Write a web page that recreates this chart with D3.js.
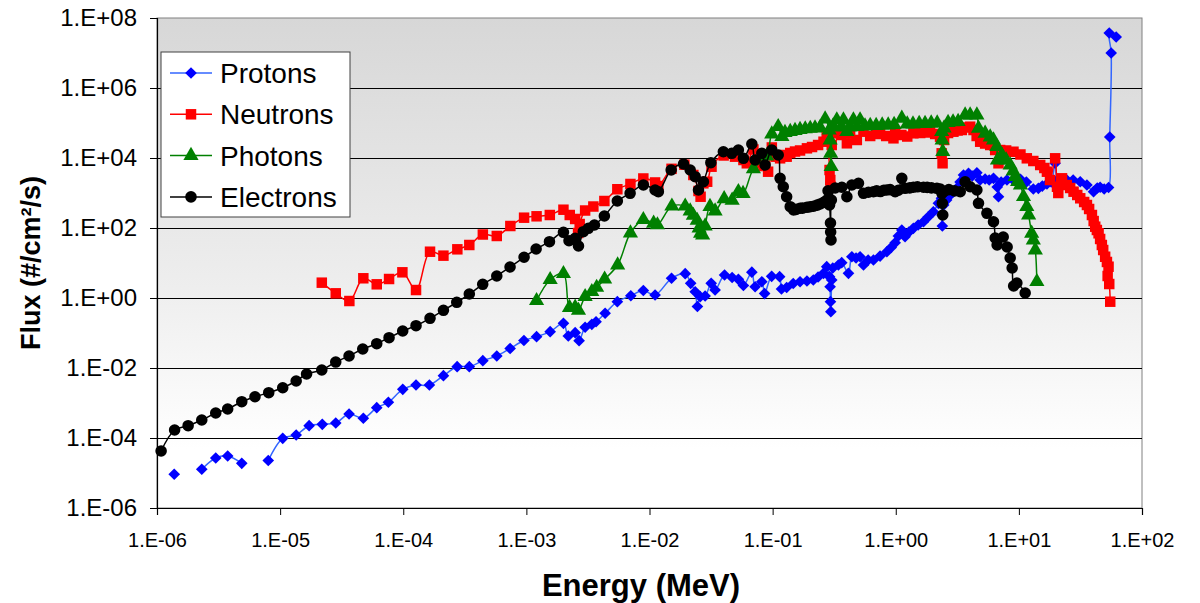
<!DOCTYPE html>
<html>
<head>
<meta charset="utf-8">
<script src="https://cdn.jsdelivr.net/npm/d3@7"></script>
<style>
  body { margin: 0; background: #fff; }
  svg { font-family: "Liberation Sans", Arial, sans-serif; }
</style>
</head>
<body>
<svg id="chart" width="1200" height="603"></svg>
<script>
const width = 1200;
const height = 603;

const seriesNames = ["Protons", "Neutrons", "Photons", "Electrons"];
const yTicks = [1e-6, 1e-4, 1e-2, 1e0, 1e2, 1e4, 1e6, 1e8];
const xTicks = [1e-6, 1e-5, 1e-4, 1e-3, 1e-2, 1e-1, 1e0, 1e1, 1e2];

// [energy MeV, flux #/cm2/s], null = gap in the line
const protons = [
  [1.38e-6, 9.2e-6], null,
  [2.31e-6, 1.28e-5], [3.0e-6, 2.68e-5], [3.75e-6, 3.06e-5], [4.88e-6, 1.89e-5], null,
  [8.01e-6, 2.28e-5], [1.05e-5, 9.8e-5], [1.35e-5, 1.22e-4], [1.72e-5, 2.25e-4], [2.2e-5, 2.46e-4],
  [2.83e-5, 2.68e-4], [3.63e-5, 4.85e-4], [4.74e-5, 3.66e-4], [6.09e-5, 7.34e-4], [7.57e-5, 1.05e-3],
  [9.91e-5, 2.46e-3], [1.27e-4, 3.27e-3], [1.63e-4, 3.27e-3], [2.12e-4, 6.03e-3], [2.74e-4, 1.09e-2],
  [3.44e-4, 1.09e-2], [4.43e-4, 1.62e-2], [5.75e-4, 2.2e-2], [7.38e-4, 3.61e-2], [9.55e-4, 6.1e-2],
  [1.21e-3, 7.84e-2], [1.56e-3, 0.109], [2.0e-3, 0.189], [2.19e-3, 0.082], [2.49e-3, 0.102],
  [2.68e-3, 0.0603], [3.0e-3, 0.146], [3.4e-3, 0.177], [3.68e-3, 0.21], [4.36e-3, 0.366],
  [5.48e-3, 0.784], [7.05e-3, 1.16], [8.91e-3, 1.64], [1.11e-2, 1.22], [1.51e-2, 3.66],
  [1.95e-2, 4.95], [2.16e-2, 2.63], [2.35e-2, 1.51], [2.45e-2, 0.572], [2.58e-2, 1.09],
  [2.83e-2, 1.14], [3.17e-2, 2.63], [3.41e-2, 1.69], [4.07e-2, 4.54], [4.69e-2, 3.85],
  [5.27e-2, 3.42], [5.79e-2, 2.28], [6.78e-2, 5.46], [7.21e-2, 2.1], [8.17e-2, 2.92],
  [8.61e-2, 1.34], [9.82e-2, 4.17], [0.114, 4.06], [0.118, 1.81], [0.130, 2.0],
  [0.147, 2.6], [0.167, 2.92], [0.19, 3.06], [0.214, 3.27], [0.234, 3.98], [0.259, 5.08],
  [0.275, 7.84], [0.29, 4.06], [0.293, 2.1], [0.295, 0.784], [0.297, 0.406], [0.302, 3.27],
  [0.308, 7.2], [0.342, 8.77], [0.364, 10.2], [0.413, 5.08], [0.44, 15.1], [0.476, 13.9],
  [0.513, 15.1], [0.547, 8.77], [0.597, 12.2], [0.659, 12.2], [0.746, 15.8], [0.847, 21.0],
  [0.918, 27.7], [0.989, 38.0], [1.05, 59], [1.12, 87.7], [1.19, 56.4], [1.28, 76.9],
  [1.39, 98], [1.52, 122], [1.68, 151], [1.83, 206], [2.02, 292], [2.22, 508], [2.35, 706],
  [2.37, 235], [2.39, 114], [2.45, 454], [2.59, 631], [2.77, 877], [2.92, 1070], [3.13, 1360],
  [3.33, 2060], [3.55, 3270], [3.9, 3660], [4.18, 3060], [4.56, 3800], [4.85, 2350],
  [5.32, 2510], [5.74, 2350], [6.22, 2630], [6.67, 1480], [6.83, 783], [7.18, 2060],
  [8.0, 2350], [9.0, 2350], [10.3, 2460], [11.5, 2060], [13.1, 1300], [14.4, 1360],
  [15.5, 1580], [16.9, 1810], [18.3, 2060], [19.7, 7060], [20.5, 2350], [22.1, 2060],
  [24.5, 2350], [27.6, 2350], [31.5, 2100], [35.7, 1690], [40.4, 1090], [43.3, 1390],
  [45.7, 1460], [49.3, 1300], [53.5, 1440], [54.7, 39800], [56.2, 1.0e7], [54.2, 3.73e7],
  [61.7, 2.86e7]
];

const neutrons = [
  [2.18e-5, 2.74], [2.83e-5, 1.36], [3.65e-5, 0.82], [4.74e-5, 3.66], [6.09e-5, 2.46],
  [7.67e-5, 3.49], [9.84e-5, 5.42], [1.27e-4, 1.69], [1.65e-4, 21.0], [2.12e-4, 16.2],
  [2.75e-4, 24.6], [3.44e-4, 32.7], [4.43e-4, 65.2], [5.75e-4, 59.1], [7.41e-4, 114],
  [9.58e-4, 197], [1.21e-3, 216], [1.55e-3, 235], [2.0e-3, 333], [2.25e-3, 235],
  [2.49e-3, 181], [2.63e-3, 71.9], [2.71e-3, 130], [3.0e-3, 316], [3.5e-3, 411],
  [4.3e-3, 591], [5.48e-3, 1280], [7.0e-3, 1810], [8.91e-3, 2600], [1.11e-2, 2000],
  [1.18e-2, 1580], [1.51e-2, 4910], [1.92e-2, 6440], [2.27e-2, 3270], [2.5e-2, 1140],
  [2.6e-2, 783], [2.74e-2, 1890], [2.94e-2, 2100], [3.19e-2, 5640], [4.0e-2, 11800],
  [4.95e-2, 10900], [5.79e-2, 8770], [6.17e-2, 7060], [6.98e-2, 17500], [7.67e-2, 7060],
  [8.45e-2, 5900], [9.19e-2, 4060], [9.85e-2, 20000], [0.107, 10900], [0.115, 9800],
  [0.122, 12200], [0.13, 10900], [0.139, 13900], [0.152, 15300], [0.167, 16400],
  [0.19, 18900], [0.209, 20600], [0.234, 23500], [0.259, 29200], [0.275, 50800],
  [0.29, 4540], [0.294, 2350], [0.296, 1510], [0.302, 23500], [0.322, 50800],
  [0.36, 45400], [0.401, 26300], [0.426, 50800], [0.483, 32700], [0.547, 56400],
  [0.62, 42500], [0.693, 48500], [0.746, 50800], [0.836, 42500], [0.958, 36500],
  [0.989, 56400], [1.11, 45400], [1.24, 41100], [1.39, 50800], [1.58, 51800],
  [1.77, 53500], [1.90, 56400], [2.09, 48500], [2.29, 40600], [2.36, 13600],
  [2.4, 7060], [2.47, 32700], [2.66, 51800], [2.94, 56400], [3.18, 61100],
  [3.44, 63100], [3.73, 74300], [4.02, 78400], [4.28, 63100], [4.54, 42500],
  [4.85, 29200], [5.32, 25900], [5.85, 23500], [6.42, 16900], [6.83, 7060],
  [7.05, 16900], [7.88, 16400], [9.04, 15100], [10.3, 12600], [11.6, 9800],
  [13.1, 8200], [14.9, 6310], [16.1, 5180], [16.9, 4060], [17.9, 2350],
  [19.7, 9800], [20.4, 1510], [20.9, 1000], [22.4, 2630], [24.5, 1690],
  [26.1, 1390], [27.8, 1090], [29.8, 877], [31.5, 706], [33.9, 553], [35.7, 454],
  [37.2, 349], [39.2, 235], [40.5, 158], [41.7, 109], [43.0, 87.7], [44.4, 70.6],
  [45.7, 48.5], [47.2, 32.7], [48.4, 23.5], [50.2, 15.1], [51.9, 10.7], [53.5, 7.84],
  [52.6, 4.25], [54.2, 2.51], [55.2, 0.784]
];

const photons = [
  [1.21e-3, 0.838], [1.56e-3, 3.33], [2.0e-3, 4.95], [2.24e-3, 0.535], [2.49e-3, 0.542],
  [2.65e-3, 0.44], [3.0e-3, 1.09], [3.4e-3, 1.51], [3.72e-3, 2.0], [4.32e-3, 3.44],
  [5.51e-3, 8.77], [7.0e-3, 71.9], [8.91e-3, 173], [1.08e-2, 136], [1.16e-2, 122],
  [1.52e-2, 420], [1.95e-2, 420], [2.14e-2, 306], [2.27e-2, 228], [2.44e-2, 164],
  [2.53e-2, 100], [2.6e-2, 70.6], [2.7e-2, 63.1], [2.83e-2, 114], [3.1e-2, 411],
  [3.41e-2, 306], [4.04e-2, 682], [4.69e-2, 618], [5.27e-2, 1090], [5.75e-2, 968],
  [6.98e-2, 4910], [8.95e-2, 11400], [9.84e-2, 48500], [0.111, 78400], [0.119, 40600],
  [0.126, 53500], [0.139, 57100], [0.152, 61100], [0.167, 65200], [0.184, 67500],
  [0.202, 69700], [0.221, 72000], [0.243, 74300], [0.267, 130000], [0.288, 63100],
  [0.293, 32700], [0.296, 13600], [0.299, 5640], [0.31, 82000], [0.332, 122000],
  [0.36, 76900], [0.376, 122000], [0.401, 56400], [0.426, 76900], [0.453, 122000],
  [0.485, 79400], [0.513, 122000], [0.563, 82000], [0.62, 84800], [0.693, 84800],
  [0.776, 87700], [0.868, 87700], [0.97, 90600], [1.12, 136000], [1.24, 93600],
  [1.38, 93600], [1.55, 96800], [1.73, 96800], [1.94, 100000], [2.17, 100000],
  [2.36, 56400], [2.38, 32700], [2.41, 15100], [2.47, 72000], [2.66, 103000],
  [2.92, 107000], [3.21, 110000], [3.66, 169000], [4.02, 169000], [4.56, 169000],
  [4.7, 70600], [5.32, 50800], [5.85, 39800], [6.22, 32700], [6.62, 21000],
  [6.7, 8770], [7.28, 12200], [7.88, 8770], [8.5, 6310], [8.99, 4250], [9.33, 2920],
  [9.77, 2130], [10.3, 1690], [10.9, 783], [11.6, 406], [12.0, 235], [12.7, 70.6],
  [13.1, 45.4], [13.6, 23.5], [14.0, 2.92]
];

const electrons = [
  [1.08e-6, 4.25e-5], [1.39e-6, 1.69e-4], [1.79e-6, 2.25e-4], [2.31e-6, 3.27e-4],
  [3.0e-6, 5.18e-4], [3.75e-6, 6.74e-4], [4.88e-6, 1.09e-3], [6.25e-6, 1.51e-3],
  [8.08e-6, 1.97e-3], [1.05e-5, 2.73e-3], [1.35e-5, 4.25e-3], [1.64e-5, 6.74e-3],
  [2.18e-5, 8.77e-3], [2.83e-5, 1.48e-2], [3.63e-5, 2.2e-2], [4.69e-5, 3.49e-2],
  [6.09e-5, 4.95e-2], [7.67e-5, 7.34e-2], [9.9e-5, 0.114], [1.27e-4, 0.162],
  [1.65e-4, 0.263], [2.12e-4, 0.445], [2.72e-4, 0.754], [3.44e-4, 1.3], [4.42e-4, 2.46],
  [5.75e-4, 4.25], [7.37e-4, 7.69], [9.58e-4, 14.6], [1.2e-3, 25.1], [1.54e-3, 40.6],
  [2.0e-3, 75.4], [2.22e-3, 43.4], [2.49e-3, 50.8], [2.65e-3, 30.6], [2.9e-3, 78.4],
  [3.19e-3, 98], [3.57e-3, 122], [4.3e-3, 220], [5.48e-3, 591], [6.96e-3, 980],
  [8.92e-3, 1690], [1.11e-2, 1220], [1.18e-2, 1090], [1.5e-2, 4540], [1.89e-2, 6740],
  [2.14e-2, 4540], [2.35e-2, 2920], [2.5e-2, 1220], [2.74e-2, 2100], [3.15e-2, 7340],
  [3.98e-2, 15100], [4.66e-2, 13600], [5.27e-2, 16900], [5.79e-2, 9800], [6.78e-2, 25100],
  [7.21e-2, 8770], [8.17e-2, 13600], [8.69e-2, 6310], [9.85e-2, 16900], [0.111, 12200],
  [0.115, 2630], [0.122, 1510], [0.13, 783], [0.139, 406], [0.148, 327], [0.155, 340],
  [0.167, 366], [0.175, 370], [0.19, 390], [0.202, 406], [0.215, 420], [0.23, 450],
  [0.243, 485], [0.26, 540], [0.276, 631], [0.282, 1160], [0.29, 454], [0.295, 139],
  [0.296, 76.9], [0.298, 45.4], [0.30, 631], [0.322, 1390], [0.365, 1460], [0.401, 783],
  [0.44, 1690], [0.498, 1890], [0.547, 980], [0.6, 1050], [0.659, 1090], [0.7, 1150],
  [0.75, 1100], [0.8, 1200], [0.847, 1220], [0.9, 1250], [0.989, 1090], [1.05, 1200],
  [1.12, 2630], [1.19, 1360], [1.3, 1400], [1.39, 1460], [1.5, 1500], [1.68, 1460],
  [1.8, 1450], [1.95, 1400], [2.16, 1360], [2.3, 1300], [2.37, 980], [2.39, 508],
  [2.41, 235], [2.45, 1100], [2.7, 1250], [3.0, 1150], [3.34, 1090], [3.66, 2100],
  [4.02, 1510], [4.56, 1220], [4.7, 508], [5.5, 263], [6.22, 151], [6.42, 51.8],
  [6.66, 32.7], [7.46, 55.3], [8.03, 28.7], [8.5, 13.9], [8.82, 7.2], [9.07, 2.2],
  [9.63, 2.68], [11.25, 1.39]
];

const series = [
  {name: "Protons", data: protons, line: "#3366ff", fill: "#0000ff", shape: "diamond"},
  {name: "Neutrons", data: neutrons, line: "#ff0000", fill: "#ff0000", shape: "square"},
  {name: "Photons", data: photons, line: "#008000", fill: "#008000", shape: "triangle"},
  {name: "Electrons", data: electrons, line: "#000000", fill: "#000000", shape: "circle"}
];

const plot = {left: 157, right: 1142, top: 18, bottom: 508};

const x = d3.scaleLog().domain([1e-6, 1e2]).range([plot.left, plot.right]);
const y = d3.scaleLog().domain([1e-6, 1e8]).range([plot.bottom, plot.top]);

const expFormat = d => {
  const e = Math.round(Math.log10(d));
  return "1.E" + (e < 0 ? "-" : "+") + String(Math.abs(e)).padStart(2, "0");
};

const svg = d3.select("#chart");

//background gradient
const grad = svg.append("defs").append("linearGradient")
    .attr("id", "bg")
    .attr("x1", 0).attr("y1", 0).attr("x2", 0).attr("y2", 1);
grad.append("stop").attr("offset", "0%").attr("stop-color", "#d7d7d7");
grad.append("stop").attr("offset", "55%").attr("stop-color", "#eeeeee");
grad.append("stop").attr("offset", "88%").attr("stop-color", "#ffffff");

svg.append("rect")
    .attr("x", plot.left).attr("y", plot.top)
    .attr("width", plot.right - plot.left).attr("height", plot.bottom - plot.top)
    .attr("fill", "url(#bg)")
    .attr("stroke", "#808080");

//gridlines
svg.append("g")
    .selectAll("line")
    .data(yTicks.slice(1, -1))
    .join("line")
        .attr("x1", plot.left).attr("x2", plot.right)
        .attr("y1", d => Math.round(y(d)) + 0.5).attr("y2", d => Math.round(y(d)) + 0.5)
        .attr("stroke", "#000")
        .attr("stroke-width", 1);

//axes
const yAxis = svg.append("g")
    .attr("transform", `translate(${plot.left},0)`)
    .call(d3.axisLeft(y).tickValues(yTicks).tickFormat(expFormat).tickSize(7).tickPadding(13));
const xAxis = svg.append("g")
    .attr("transform", `translate(0,${plot.bottom})`)
    .call(d3.axisBottom(x).tickValues(xTicks).tickFormat(expFormat).tickSize(7).tickPadding(18));

[yAxis, xAxis].forEach(g => {
  g.select(".domain").attr("stroke", "#000").attr("stroke-width", 1.2);
  g.selectAll(".tick line").attr("stroke", "#000");
  g.selectAll("text")
      .attr("fill", "#000")
      .style("font-family", '"Liberation Sans", Arial, sans-serif');
});
yAxis.selectAll("text").style("font-size", "24px");
xAxis.selectAll("text").style("font-size", "20px");

//axis titles
svg.append("text")
    .attr("x", 641)
    .attr("y", 596)
    .attr("text-anchor", "middle")
    .style("font-size", "31px")
    .style("font-weight", "bold")
    .text("Energy (MeV)");

svg.append("text")
    .attr("transform", `translate(40,${(plot.top + plot.bottom) / 2}) rotate(-90)`)
    .attr("text-anchor", "middle")
    .style("font-size", "27px")
    .style("font-weight", "bold")
    .text("Flux (#/cm²/s)");

//markers
const symbolFor = shape => {
  if (shape === "diamond") return d3.symbol(d3.symbolSquare, 68)();
  if (shape === "square") return d3.symbol(d3.symbolSquare, 110)();
  if (shape === "triangle") return d3.symbol(d3.symbolTriangle, 100)();
  return d3.symbol(d3.symbolCircle, 105)();
};
const rotFor = shape => shape === "diamond" ? " rotate(45)" : "";

const lineGen = d3.line()
    .defined(d => d !== null)
    .x(d => x(d[0]))
    .y(d => y(d[1]))
    .curve(d3.curveCatmullRom.alpha(0.5));

const chart = svg.append("g");

series.forEach(s => {
  const g = chart.append("g").classed("series", true);
  g.append("path")
      .attr("d", lineGen(s.data))
      .attr("fill", "none")
      .attr("stroke", s.line)
      .attr("stroke-width", 1.5);
  g.selectAll("path.marker")
      .data(s.data.filter(d => d !== null))
      .join("path")
          .classed("marker", true)
          .attr("d", symbolFor(s.shape))
          .attr("transform", d => `translate(${x(d[0])},${y(d[1])})${rotFor(s.shape)}`)
          .attr("fill", s.fill);
});

//legend
const legend = svg.append("g").attr("transform", "translate(161,52)");
legend.append("rect")
    .attr("width", 189).attr("height", 165)
    .attr("fill", "#fff")
    .attr("stroke", "#404040");

const items = legend.selectAll("g.item")
    .data(series)
    .join("g")
        .classed("item", true)
        .attr("transform", (d, i) => `translate(0,${21 + i * 41.3})`);
items.append("line")
    .attr("x1", 9).attr("x2", 51)
    .attr("stroke", d => d.line)
    .attr("stroke-width", 1.5);
items.append("path")
    .attr("d", d => symbolFor(d.shape))
    .attr("transform", d => `translate(30,0)${rotFor(d.shape)}`)
    .attr("fill", d => d.fill);
items.append("text")
    .attr("x", 59)
    .attr("dy", "0.36em")
    .style("font-size", "28px")
    .text(d => d.name);
</script>
</body>
</html>
